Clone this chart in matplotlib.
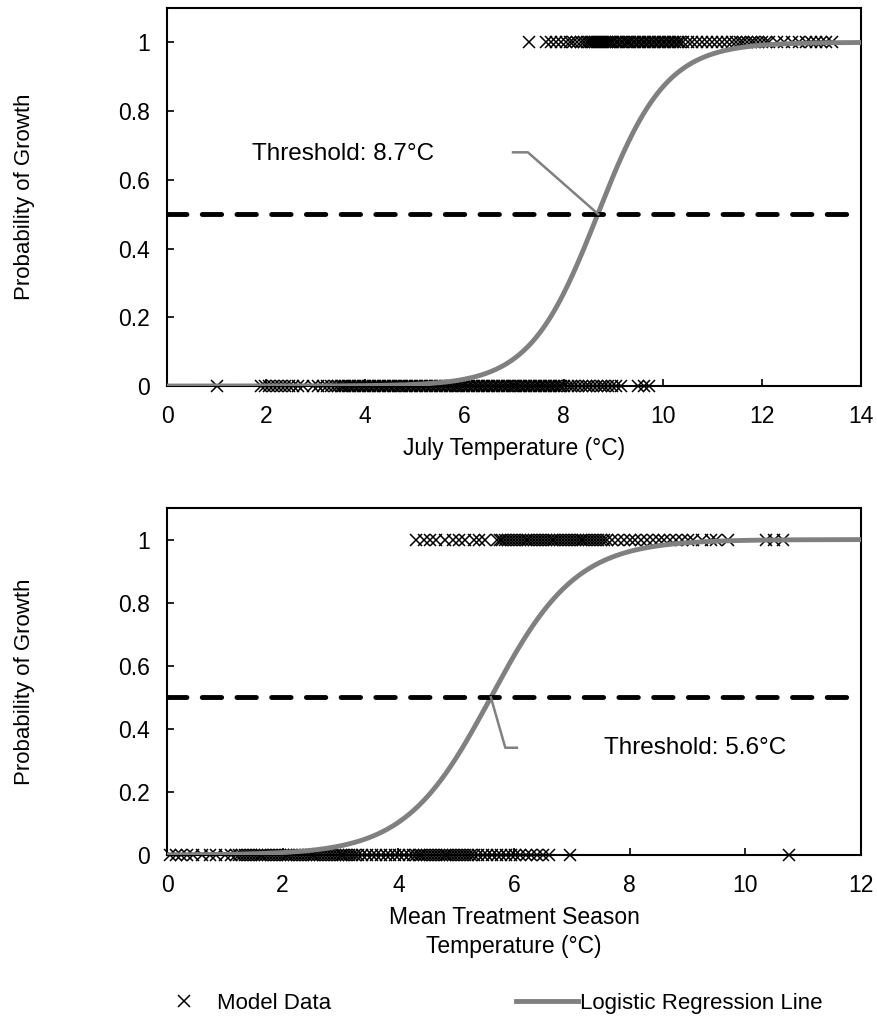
import numpy as np
import matplotlib.pyplot as plt

plt.rcParams['font.family'] = ['Liberation Sans', 'DejaVu Sans']
plt.rcParams['lines.scale_dashes'] = False
FS = 16.5

# --- top panel: July temperature ---
july_grow = [7.3,
             7.65, 7.75, 7.85, 7.95, 8.05, 8.12, 8.2, 8.28, 8.35, 8.42,
             8.48, 8.52, 8.56, 8.6, 8.64, 8.68, 8.72, 8.76, 8.8, 8.84, 8.88, 8.92, 8.96,
             9.0, 9.05, 9.1, 9.15, 9.2, 9.25, 9.3, 9.35, 9.4, 9.45,
             9.5, 9.55, 9.6, 9.65, 9.7, 9.75, 9.8, 9.85, 9.9, 9.95,
             10.0, 10.05, 10.1, 10.15, 10.2, 10.25, 10.3, 10.35, 10.4,
             10.5, 10.6, 10.7, 10.8, 10.9, 11.0, 11.1, 11.2, 11.3, 11.4,
             11.48, 11.55, 11.62, 11.7, 11.78, 11.85, 11.92, 12.0, 12.08, 12.15,
             12.3, 12.45, 12.6, 12.75, 12.9, 13.0, 13.1, 13.2, 13.3, 13.42]
july_none = [1.0,
             1.9, 1.98, 2.06, 2.14, 2.22, 2.3, 2.38, 2.46, 2.55, 2.65, 2.75,
             2.95, 3.05, 3.15, 3.22, 3.3, 3.38, 3.45,
             3.5, 3.55, 3.6, 3.65, 3.7, 3.75, 3.8, 3.85, 3.9, 3.95,
             4.0, 4.05, 4.1, 4.15, 4.2, 4.25, 4.3, 4.35, 4.4, 4.45,
             4.5, 4.55, 4.6, 4.65, 4.7, 4.75, 4.8, 4.85, 4.9, 4.95,
             5.0, 5.05, 5.1, 5.15, 5.2, 5.25, 5.3, 5.35, 5.4, 5.45,
             5.5, 5.55, 5.6, 5.65, 5.7, 5.75, 5.8, 5.85, 5.9, 5.95,
             6.0, 6.05, 6.1, 6.15, 6.2, 6.25, 6.3, 6.35, 6.4, 6.45,
             6.5, 6.55, 6.6, 6.65, 6.7, 6.75, 6.8, 6.85, 6.9, 6.95,
             7.0, 7.05, 7.1, 7.15, 7.2, 7.25, 7.3, 7.35, 7.4, 7.45,
             7.5, 7.55, 7.6, 7.65, 7.7, 7.75, 7.8, 7.85, 7.9, 7.95,
             8.0, 8.08, 8.15, 8.22, 8.3, 8.38, 8.45, 8.52, 8.6, 8.68,
             8.75, 8.82, 8.9, 8.98, 9.05, 9.15, 9.5, 9.62, 9.72]
july_b0, july_b1 = -12.6, 1.45     # fitted logistic coefficients
july_thr = 8.7

# --- bottom panel: mean treatment season temperature ---
mean_grow = [4.3, 4.45, 4.55, 4.65, 4.8, 4.95, 5.05, 5.15, 5.3, 5.4, 5.5,
             5.7, 5.75, 5.8, 5.85, 5.9, 5.95, 6.0, 6.05, 6.1, 6.15,
             6.2, 6.25, 6.3, 6.35, 6.4, 6.45, 6.5, 6.55, 6.6, 6.65,
             6.7, 6.75, 6.8, 6.85, 6.9, 6.95, 7.0, 7.05, 7.1, 7.15,
             7.2, 7.25, 7.3, 7.35, 7.4, 7.45, 7.5, 7.55, 7.6,
             7.7, 7.8, 7.9, 8.0, 8.1, 8.2, 8.3, 8.4, 8.5, 8.6,
             8.7, 8.8, 8.9, 9.0, 9.1, 9.25, 9.4, 9.5, 9.7,
             10.35, 10.5, 10.65]
mean_none = [0.05, 0.15, 0.25, 0.35, 0.45, 0.6, 0.75, 0.85, 1.0, 1.1,
             1.2, 1.25, 1.3, 1.35, 1.4, 1.45, 1.5, 1.55, 1.6, 1.65,
             1.7, 1.75, 1.8, 1.85, 1.9, 1.95, 2.0, 2.05, 2.1, 2.15,
             2.2, 2.25, 2.3, 2.35, 2.4, 2.45, 2.5, 2.55, 2.6, 2.65,
             2.7, 2.75, 2.8, 2.85, 2.9, 2.95, 3.0, 3.05, 3.1, 3.15,
             3.2, 3.25, 3.3, 3.38, 3.46, 3.54, 3.62, 3.7, 3.78, 3.86,
             3.94, 4.02, 4.1, 4.18, 4.25, 4.3, 4.35, 4.4, 4.45, 4.5,
             4.55, 4.6, 4.65, 4.7, 4.75, 4.8, 4.85, 4.9, 4.95, 5.0,
             5.05, 5.1, 5.15, 5.2, 5.25, 5.3, 5.38, 5.46, 5.54, 5.62,
             5.7, 5.78, 5.86, 5.94, 6.02,
             6.1, 6.2, 6.3, 6.4, 6.5, 6.6, 6.97, 10.75]
mean_b0, mean_b1 = -7.56, 1.35
mean_thr = 5.6

y_ticks = [0, 0.2, 0.4, 0.6, 0.8, 1]
y_labels = ['0', '0.2', '0.4', '0.6', '0.8', '1']

GRAY = '#808080'


def draw_panel(ax, grow, none, b0, b1, thr, xmax, xlabel):
    ax.plot(none, np.zeros(len(none)), 'x', color='black', ms=9, mew=1.1,
            clip_on=False, zorder=3, label='Model Data')
    ax.plot(grow, np.ones(len(grow)), 'x', color='black', ms=9, mew=1.1,
            clip_on=False, zorder=3)
    xs = np.linspace(0, xmax, 400)
    ax.plot(xs, 1 / (1 + np.exp(-(b0 + b1 * xs))), color=GRAY, lw=3.5,
            zorder=4, label='Logistic Regression Line')
    ax.plot([0, xmax], [0.5, 0.5], color='black', lw=3.5, dashes=(14, 11),
            dash_capstyle='round', zorder=5)
    ax.set_xlim(0, xmax)
    ax.set_ylim(0, 1.1)
    ax.set_xticks(range(0, xmax + 1, 2))
    ax.set_yticks(y_ticks)
    ax.set_yticklabels(y_labels)
    ax.tick_params(direction='in', length=5, width=1.2, labelsize=FS, color='black')
    ax.tick_params(axis='x', pad=14)
    ax.tick_params(axis='y', pad=12)
    for s in ax.spines.values():
        s.set_linewidth(1.5)
    ax.set_xlabel(xlabel, fontsize=FS, labelpad=6, linespacing=1.35)
    ax.set_ylabel('Probability of Growth', fontsize=16)
    ax.yaxis.set_label_coords(-0.19, 0.5)


fig = plt.figure(figsize=(8.77, 10.29), dpi=100)
ax1 = fig.add_axes([167 / 877, 643 / 1029, 694 / 877, 378 / 1029])
ax2 = fig.add_axes([167 / 877, 174 / 1029, 694 / 877, 347 / 1029])

draw_panel(ax1, july_grow, july_none, july_b0, july_b1, july_thr, 14,
           'July Temperature (°C)')
draw_panel(ax2, mean_grow, mean_none, mean_b0, mean_b1, mean_thr, 12,
           'Mean Treatment Season\nTemperature (°C)')

# threshold callouts
ax1.plot([6.98, 7.28, july_thr], [0.68, 0.68, 0.5], color=GRAY, lw=1.8, zorder=6)
ax1.text(3.55, 0.675, f'Threshold: {july_thr}°C', fontsize=17.5, ha='center', va='center')
ax2.plot([mean_thr, 5.85, 6.05], [0.5, 0.34, 0.34], color=GRAY, lw=1.8, zorder=6)
ax2.text(9.13, 0.34, f'Threshold: {mean_thr}°C', fontsize=17.5, ha='center', va='center')

handles, labels = ax2.get_legend_handles_labels()
fig.legend(handles, labels, loc='center left', bbox_to_anchor=(133 / 877, 0.025), ncol=2,
           frameon=False, fontsize=16, handlelength=2.8, handletextpad=0.1,
           columnspacing=8.3)

fig.savefig('out.png', dpi=100)
